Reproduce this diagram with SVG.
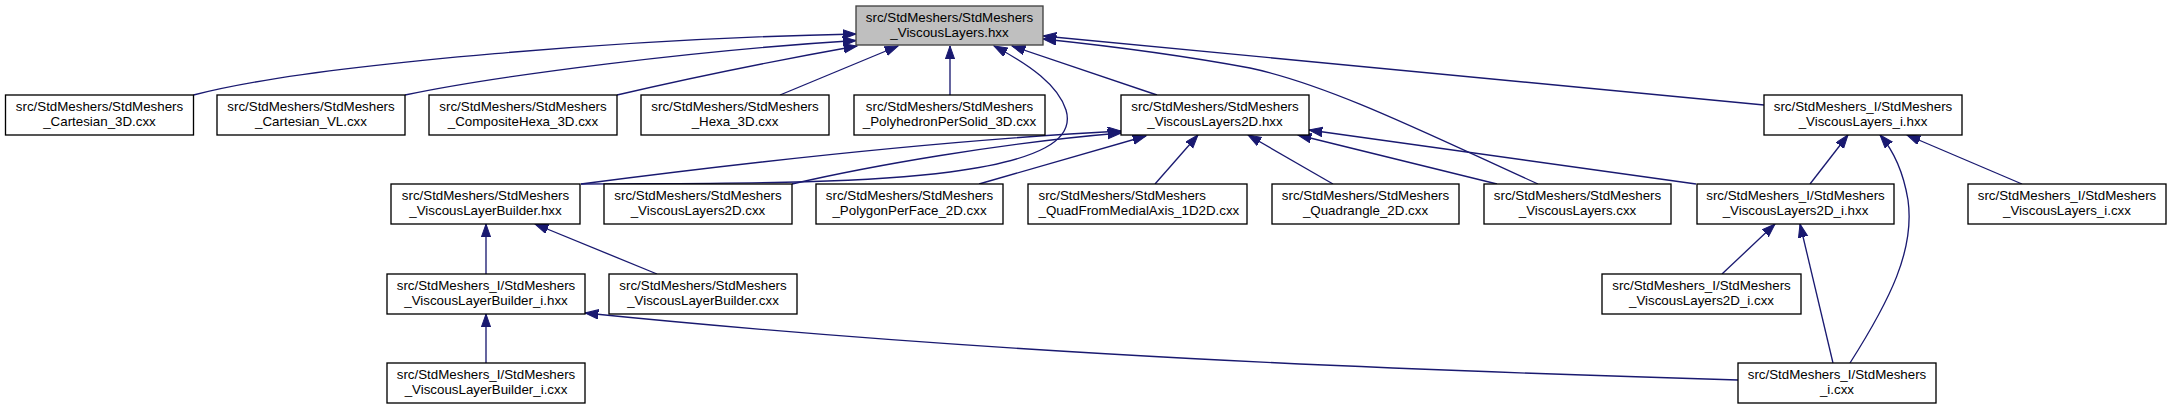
<svg xmlns="http://www.w3.org/2000/svg" width="2172" height="409" viewBox="0 0 2172 409">
<style>
.n rect{fill:#ffffff;stroke:#000000;stroke-width:1.33}
.n.f rect{fill:#bfbfbf;stroke:#404040}
.n text{font-family:"Liberation Sans",Arial,sans-serif;font-size:13.33px;fill:#000000;text-anchor:middle}
.n text.l{text-anchor:start}
.e path{fill:none;stroke:#191970;stroke-width:1.33;marker-end:url(#arr)}
</style>
<defs>
<marker id="arr" markerUnits="userSpaceOnUse" markerWidth="15" markerHeight="11" refX="13.3" refY="5" orient="auto" viewBox="0 0 15 11">
<path d="M0,0.3 L13.3,5 L0,9.7 Z" fill="#191970" stroke="#191970" stroke-width="1"/>
</marker>
</defs>
<rect width="2172" height="409" fill="#ffffff"/>
<g id="connectors" class="e">
<path d="M193.5,95 C320,62 650,38 856,34"/>
<path d="M405,95 C500,75 700,50 856,40.5"/>
<path d="M617,95 C690,78 790,58 857,46"/>
<path d="M780,95 L898,46"/>
<path d="M950,95 L950,46"/>
<path d="M581,184 C700,183 850,185 950,172 C1040,160 1075,140 1066,110 C1058,85 1030,65 994,46"/>
<path d="M1157,95 L1012,46"/>
<path d="M1538,184 C1430,135 1330,85 1250,68 C1180,55 1110,46 1043,39"/>
<path d="M1764,105 L1043,36"/>
<path d="M581,184 C750,162 950,140 1121,131"/>
<path d="M792,184 C870,166 1000,143 1121,133"/>
<path d="M979,184 L1146,136"/>
<path d="M1155,184 L1198,135"/>
<path d="M1333,184 L1248,135"/>
<path d="M1497,184 L1298,135"/>
<path d="M1696,184 L1309,130"/>
<path d="M1810,184 L1848,135"/>
<path d="M1850,363 C1890,300 1915,250 1908,200 C1903,170 1893,150 1880,135"/>
<path d="M2022,184 L1907,135"/>
<path d="M1722,274 L1775,224"/>
<path d="M1833,363 L1800,224"/>
<path d="M486,274 L486,224"/>
<path d="M657,274 L535,224"/>
<path d="M486,363 L486,314"/>
<path d="M1738,380 C1400,370 1000,355 585,313"/>
</g>
<g id="n_top" class="n f"><rect x="856" y="6" width="187" height="39"/><text x="949.5" y="22">src/StdMeshers/StdMeshers</text><text x="949.5" y="37">_ViscousLayers.hxx</text></g>
<g id="n_cart3d" class="n"><rect x="5.5" y="95" width="188" height="40"/><text x="99.5" y="111">src/StdMeshers/StdMeshers</text><text x="99.5" y="126">_Cartesian_3D.cxx</text></g>
<g id="n_cartvl" class="n"><rect x="217" y="95" width="188" height="40"/><text x="311" y="111">src/StdMeshers/StdMeshers</text><text x="311" y="126">_Cartesian_VL.cxx</text></g>
<g id="n_comphexa" class="n"><rect x="429" y="95" width="188" height="40"/><text x="523" y="111">src/StdMeshers/StdMeshers</text><text x="523" y="126">_CompositeHexa_3D.cxx</text></g>
<g id="n_hexa" class="n"><rect x="641" y="95" width="188" height="40"/><text x="735" y="111">src/StdMeshers/StdMeshers</text><text x="735" y="126">_Hexa_3D.cxx</text></g>
<g id="n_poly" class="n"><rect x="854" y="95" width="191" height="40"/><text x="949.5" y="111">src/StdMeshers/StdMeshers</text><text x="949.5" y="126">_PolyhedronPerSolid_3D.cxx</text></g>
<g id="n_vl2dh" class="n"><rect x="1121" y="95" width="188" height="40"/><text x="1215" y="111">src/StdMeshers/StdMeshers</text><text x="1215" y="126">_ViscousLayers2D.hxx</text></g>
<g id="n_vlih" class="n"><rect x="1764" y="95" width="198" height="40"/><text x="1863" y="111">src/StdMeshers_I/StdMeshers</text><text x="1863" y="126">_ViscousLayers_i.hxx</text></g>
<g id="n_vlbh" class="n"><rect x="391" y="184" width="189" height="40"/><text x="485.5" y="200">src/StdMeshers/StdMeshers</text><text x="485.5" y="215">_ViscousLayerBuilder.hxx</text></g>
<g id="n_vl2dc" class="n"><rect x="604" y="184" width="188" height="40"/><text x="698" y="200">src/StdMeshers/StdMeshers</text><text x="698" y="215">_ViscousLayers2D.cxx</text></g>
<g id="n_polyface" class="n"><rect x="816" y="184" width="187" height="40"/><text x="909.5" y="200">src/StdMeshers/StdMeshers</text><text x="909.5" y="215">_PolygonPerFace_2D.cxx</text></g>
<g id="n_quadmed" class="n"><rect x="1028" y="184" width="219" height="40"/><text class="l" x="1038.5" y="200">src/StdMeshers/StdMeshers</text><text class="l" x="1038.5" y="215">_QuadFromMedialAxis_1D2D.cxx</text></g>
<g id="n_quadr" class="n"><rect x="1272" y="184" width="187" height="40"/><text x="1365.5" y="200">src/StdMeshers/StdMeshers</text><text x="1365.5" y="215">_Quadrangle_2D.cxx</text></g>
<g id="n_vlc" class="n"><rect x="1484" y="184" width="187" height="40"/><text x="1577.5" y="200">src/StdMeshers/StdMeshers</text><text x="1577.5" y="215">_ViscousLayers.cxx</text></g>
<g id="n_vl2dih" class="n"><rect x="1697" y="184" width="197" height="40"/><text x="1795.5" y="200">src/StdMeshers_I/StdMeshers</text><text x="1795.5" y="215">_ViscousLayers2D_i.hxx</text></g>
<g id="n_vlic" class="n"><rect x="1968" y="184" width="198" height="40"/><text x="2067" y="200">src/StdMeshers_I/StdMeshers</text><text x="2067" y="215">_ViscousLayers_i.cxx</text></g>
<g id="n_vlbih" class="n"><rect x="387" y="274" width="198" height="40"/><text x="486" y="290">src/StdMeshers_I/StdMeshers</text><text x="486" y="305">_ViscousLayerBuilder_i.hxx</text></g>
<g id="n_vlbc" class="n"><rect x="609" y="274" width="188" height="40"/><text x="703" y="290">src/StdMeshers/StdMeshers</text><text x="703" y="305">_ViscousLayerBuilder.cxx</text></g>
<g id="n_vl2dic" class="n"><rect x="1602" y="274" width="199" height="40"/><text x="1701.5" y="290">src/StdMeshers_I/StdMeshers</text><text x="1701.5" y="305">_ViscousLayers2D_i.cxx</text></g>
<g id="n_vlbic" class="n"><rect x="387" y="363" width="198" height="40"/><text x="486" y="379">src/StdMeshers_I/StdMeshers</text><text x="486" y="394">_ViscousLayerBuilder_i.cxx</text></g>
<g id="n_icxx" class="n"><rect x="1738" y="363" width="198" height="40"/><text x="1837" y="379">src/StdMeshers_I/StdMeshers</text><text x="1837" y="394">_i.cxx</text></g>
</svg>
